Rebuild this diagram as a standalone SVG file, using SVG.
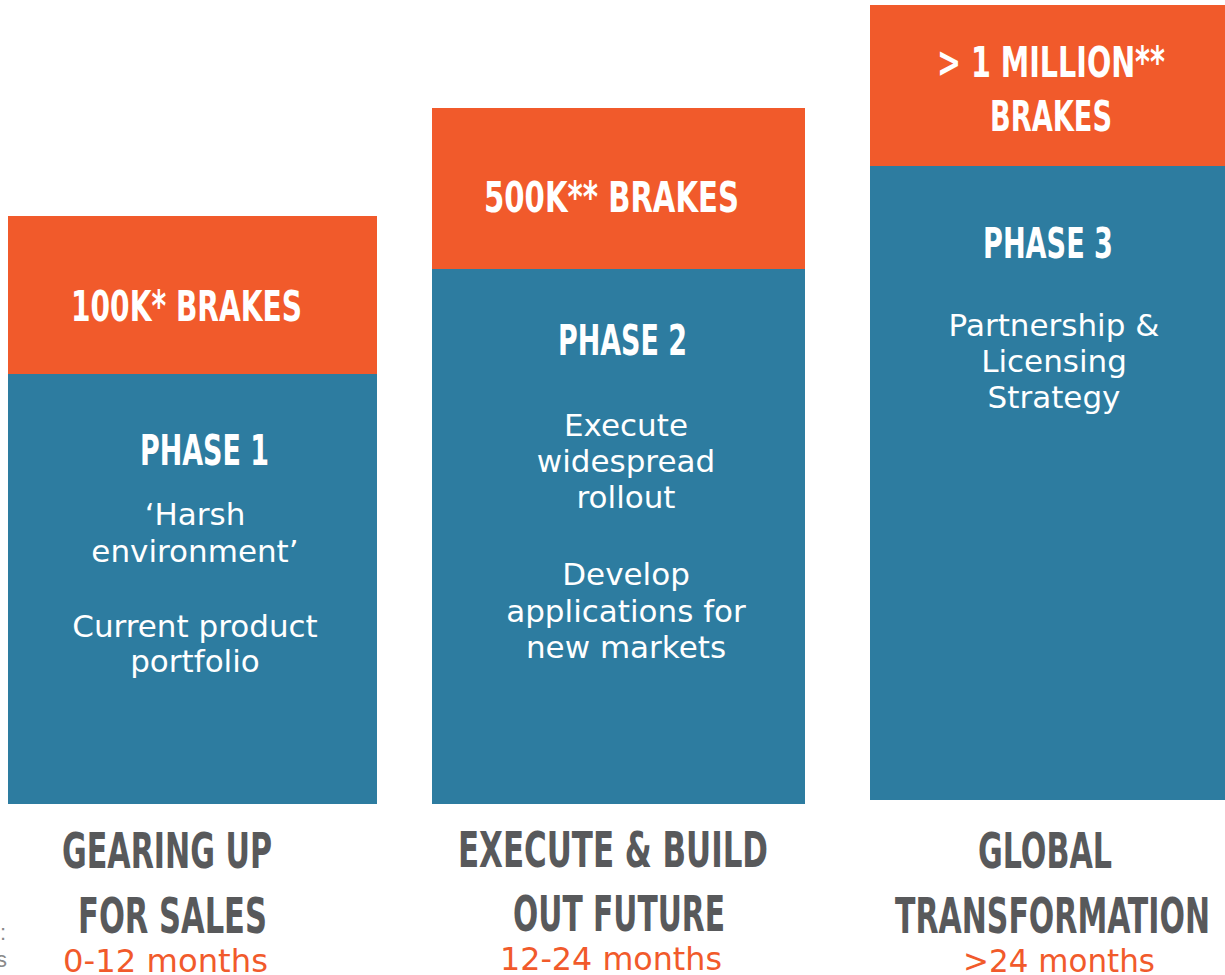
<svg xmlns="http://www.w3.org/2000/svg" width="1225" height="975" viewBox="0 0 1225 975">
<style>
.or{fill:#F15A2B}
.bl{fill:#2D7CA0}
.hd{font-family:"DejaVu Sans",sans-serif;font-weight:bold;font-stretch:condensed;text-anchor:start}
.wh{fill:#ffffff}
.gr{fill:#58595B}
.bd{font-family:"DejaVu Sans","Liberation Sans",sans-serif;font-size:31px;fill:#ffffff;text-anchor:middle}
.mo{font-family:"DejaVu Sans","Liberation Sans",sans-serif;font-size:32px;fill:#F15A2B;text-anchor:start}
</style>
<rect width="1225" height="975" fill="#ffffff"/>
<g id="phase1">
<rect class="or" x="8" y="216" width="369" height="158"/>
<rect class="bl" x="8" y="374" width="369" height="430"/>
<text class="hd wh" x="71" y="321" font-size="43" textLength="231" lengthAdjust="spacingAndGlyphs">100K* BRAKES</text>
<text class="hd wh" x="140" y="465" font-size="43" textLength="129" lengthAdjust="spacingAndGlyphs">PHASE 1</text>
<text class="bd" x="195" y="525">‘Harsh</text>
<text class="bd" x="195" y="562">environment’</text>
<text class="bd" x="195" y="637">Current product</text>
<text class="bd" x="195" y="672">portfolio</text>
</g>
<g id="phase2">
<rect class="or" x="432" y="108" width="373" height="161"/>
<rect class="bl" x="432" y="269" width="373" height="535"/>
<text class="hd wh" x="484" y="212" font-size="43" textLength="255" lengthAdjust="spacingAndGlyphs">500K** BRAKES</text>
<text class="hd wh" x="558" y="355" font-size="43" textLength="129" lengthAdjust="spacingAndGlyphs">PHASE 2</text>
<text class="bd" x="626" y="436">Execute</text>
<text class="bd" x="626" y="472">widespread</text>
<text class="bd" x="626" y="508">rollout</text>
<text class="bd" x="626" y="585">Develop</text>
<text class="bd" x="626" y="622">applications for</text>
<text class="bd" x="626" y="658">new markets</text>
</g>
<g id="phase3">
<rect class="or" x="870" y="5" width="355" height="161"/>
<rect class="bl" x="870" y="166" width="355" height="634"/>
<text class="hd wh" x="937" y="77" font-size="43" textLength="228" lengthAdjust="spacingAndGlyphs">&gt; 1 MILLION**</text>
<text class="hd wh" x="990" y="131" font-size="43" textLength="122" lengthAdjust="spacingAndGlyphs">BRAKES</text>
<text class="hd wh" x="983" y="258" font-size="43" textLength="130" lengthAdjust="spacingAndGlyphs">PHASE 3</text>
<text class="bd" x="1054" y="336">Partnership &amp;</text>
<text class="bd" x="1054" y="372">Licensing</text>
<text class="bd" x="1054" y="408">Strategy</text>
</g>
<g id="label1">
<text class="hd gr" x="62" y="868" font-size="50" textLength="210" lengthAdjust="spacingAndGlyphs">GEARING UP</text>
<text class="hd gr" x="78" y="933" font-size="50" textLength="189" lengthAdjust="spacingAndGlyphs">FOR SALES</text>
<text class="mo" x="63" y="972" textLength="205" lengthAdjust="spacingAndGlyphs">0-12 months</text>
</g>
<g id="label2">
<text class="hd gr" x="458" y="867" font-size="50" textLength="310" lengthAdjust="spacingAndGlyphs">EXECUTE &amp; BUILD</text>
<text class="hd gr" x="513" y="931" font-size="50" textLength="212" lengthAdjust="spacingAndGlyphs">OUT FUTURE</text>
<text class="mo" x="500" y="970" textLength="222" lengthAdjust="spacingAndGlyphs">12-24 months</text>
</g>
<g id="label3">
<text class="hd gr" x="978" y="868" font-size="50" textLength="134" lengthAdjust="spacingAndGlyphs">GLOBAL</text>
<text class="hd gr" x="895" y="933" font-size="50" textLength="315" lengthAdjust="spacingAndGlyphs">TRANSFORMATION</text>
<text class="mo" x="963" y="972" textLength="192" lengthAdjust="spacingAndGlyphs">&gt;24 months</text>
</g>
<g id="fragments" font-family="Liberation Sans, sans-serif" font-size="22" fill="#8a8a8a">
<text x="0" y="940">:</text>
<text x="-4" y="967">s</text>
</g>
<g id="connectors"/>
</svg>
